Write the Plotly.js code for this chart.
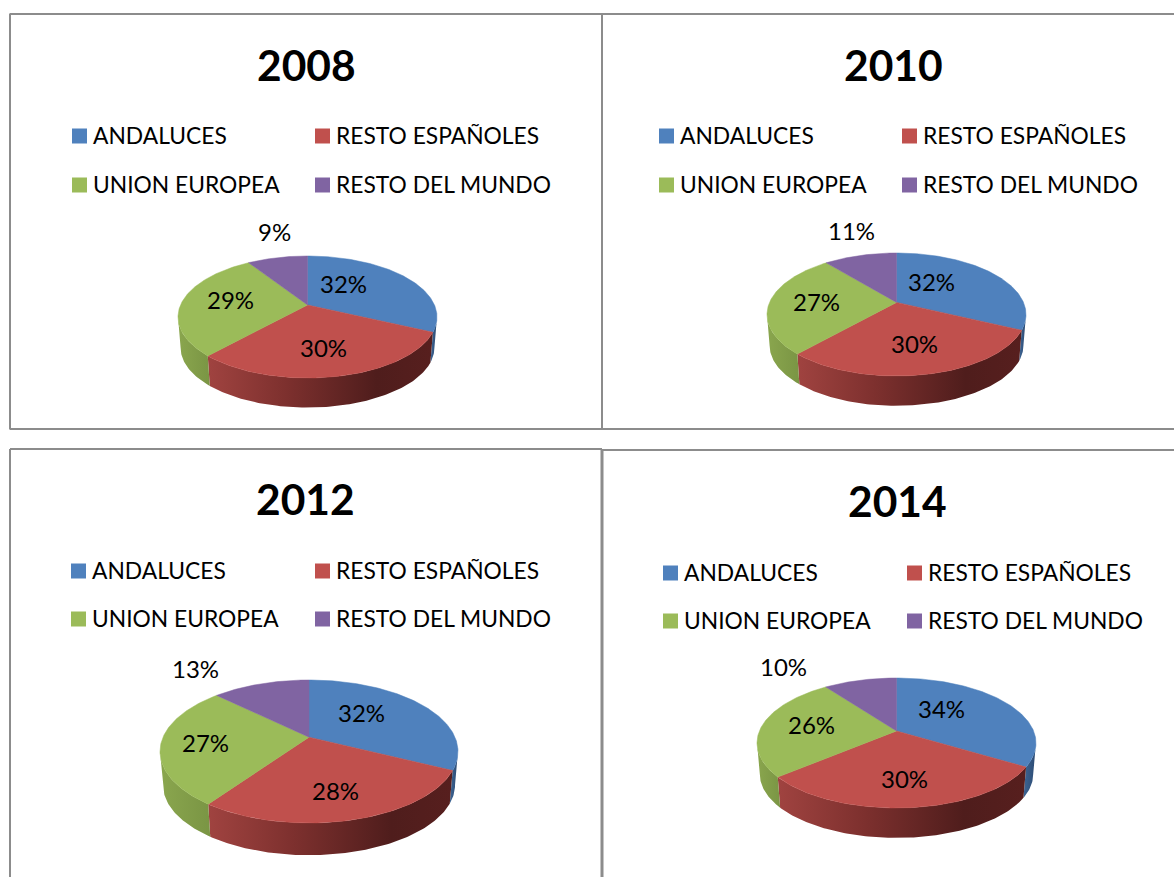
<!DOCTYPE html>
<html>
<head>
<meta charset="utf-8">
<script src="https://cdn.plot.ly/plotly-3.0.1.min.js"></script>
<style>html,body{margin:0;padding:0;background:#fff}#chart{width:1174px;height:877px}</style>
</head>
<body>
<div id="chart"></div>
<script>
// ---- data (shares; the labels show them rounded) ----
const categories = ['ANDALUCES', 'RESTO ESPAÑOLES', 'UNION EUROPEA', 'RESTO DEL MUNDO'];
const years = ['2008', '2010', '2012', '2014'];
const values2008 = [32, 29.7, 29.2, 9.1];
const values2010 = [32.1, 29.5, 27.4, 11];
const values2012 = [32.3, 27.5, 27.4, 12.8];
const values2014 = [33.7, 30.1, 26.1, 10.1];
const seriesByYear = [values2008, values2010, values2012, values2014];

// ---- styles and placement ----
const W = 1174, H = 877;
const FONT = 'Lato, Carlito, sans-serif';
const topColors = ['#4f81bd', '#c0504d', '#9bbb59', '#8064a2'];
const wallScales = [
  [[0, '#3d6594'], [1, '#2c4a72']],
  [[0, '#a04340'], [0.35, '#7d302e'], [0.75, '#4f1d1c'], [1, '#571f1e']],
  [[0, '#8aa64e'], [1, '#7a9544']],
  [[0, '#65507f'], [1, '#65507f']]
];
const panels = [
  {cx: 307.5, cy: 317,   rx: 129.5, ry: 61,   tilt: 0.197, depth: 0.504,
   title: [306, 64],  swatchX: [79.5, 322.5], rowY: [136, 185],
   labels: [[343, 283], [323, 347], [231, 299], [274, 231]]},
  {cx: 896.5, cy: 314.5, rx: 129.5, ry: 61.5, tilt: 0.197, depth: 0.504,
   title: [893, 64],  swatchX: [666.5, 909.5], rowY: [136, 185],
   labels: [[931, 281], [914, 343], [816, 301], [851, 230]]},
  {cx: 309,   cy: 751.5, rx: 149,   ry: 71.5, tilt: 0.2,   depth: 0.47,
   title: [305, 498], swatchX: [78.5, 322.5], rowY: [571, 619],
   labels: [[361, 712], [335, 790], [205, 742], [195, 668]]},
  {cx: 896.5, cy: 743,   rx: 139.5, ry: 65,   tilt: 0.185, depth: 0.48,
   title: [897, 501], swatchX: [670.5, 914.5], rowY: [573, 621],
   labels: [[941, 708], [904, 778], [811, 724], [783, 666]]}
];
const BOTTOM_SHRINK = 0.98;
const TEXT_GAP = 13.5, TEXT_DROP = 2;

// Perspective view of the pie disc: a point on the circle at clockwise angle
// theta lands on the ellipse with the pie's centre pushed towards the back.
function project(theta, tilt) {
  const x = Math.sin(theta), y = Math.cos(theta);
  const den = 1 + tilt * y;
  return [x * Math.sqrt(1 - tilt * tilt) / den, (y + tilt) / den];
}

const data = [], annotations = [];
const layout = {
  width: W, height: H, margin: {l: 0, r: 0, t: 0, b: 0}, showlegend: false,
  paper_bgcolor: '#ffffff', plot_bgcolor: 'rgba(0,0,0,0)', annotations: annotations,
  hovermode: false
};
const hidden = {visible: false, fixedrange: true, showgrid: false, zeroline: false};

panels.forEach((p, i) => {
  const n = i + 1, suf = n === 1 ? '' : String(n);
  const pad = 1.02, low = 1 + p.depth + 0.05;
  layout['xaxis' + suf] = Object.assign({}, hidden, {
    range: [-pad, pad], anchor: 'y' + suf,
    domain: [(p.cx - pad * p.rx) / W, (p.cx + pad * p.rx) / W]});
  layout['yaxis' + suf] = Object.assign({}, hidden, {
    range: [-low, pad], anchor: 'x' + suf,
    domain: [1 - (p.cy + low * p.ry) / H, 1 - (p.cy - pad * p.ry) / H]});

  const vals = seriesByYear[i];
  const total = vals.reduce((a, b) => a + b, 0);
  let acc = 0;
  const faces = [];
  vals.forEach((v, k) => {
    const a0 = acc / total * 2 * Math.PI; acc += v;
    const a1 = acc / total * 2 * Math.PI;
    const steps = Math.max(2, Math.ceil(v * 3.6));
    const rim = [];
    for (let s = 0; s <= steps; s++) rim.push(project(a0 + (a1 - a0) * s / steps, p.tilt));
    // top face
    faces.push({
      type: 'scatter', mode: 'lines', xaxis: 'x' + suf, yaxis: 'y' + suf,
      x: [0].concat(rim.map(q => q[0]), [0]),
      y: [p.tilt].concat(rim.map(q => q[1]), [p.tilt]),
      fill: 'toself', fillcolor: topColors[k],
      line: {color: topColors[k], width: 0.5}, name: categories[k] + ' ' + years[i], hoverinfo: 'skip'
    });
    // side wall: only the part of the rim that faces the viewer
    const front = rim.filter(q => q[1] <= 0.01);
    if (front.length > 1) {
      const bx = front.map(q => q[0] * BOTTOM_SHRINK).reverse();
      const by = front.map(q => q[1] * BOTTOM_SHRINK - p.depth).reverse();
      data.push({
        type: 'scatter', mode: 'lines', xaxis: 'x' + suf, yaxis: 'y' + suf,
        x: front.map(q => q[0]).concat(bx, [front[0][0]]),
        y: front.map(q => q[1]).concat(by, [front[0][1]]),
        fill: 'toself', line: {width: 0, color: 'rgba(0,0,0,0)'},
        fillgradient: {type: 'horizontal', colorscale: wallScales[k]},
        hoverinfo: 'skip', name: categories[k] + ' wall'
      });
    }
  });
  faces.forEach(f => data.push(f));
});

// overlay axes in page units for the text and legend
layout.xaxis5 = Object.assign({}, hidden, {range: [0, W], domain: [0, 1], anchor: 'y5'});
layout.yaxis5 = Object.assign({}, hidden, {range: [H, 0], domain: [0, 1], anchor: 'x5'});

panels.forEach((p, i) => {
  annotations.push({xref: 'paper', yref: 'paper', x: p.title[0] / W, y: 1 - p.title[1] / H,
    text: '<b>' + years[i] + '</b>', showarrow: false, xanchor: 'center', yanchor: 'middle',
    font: {family: FONT, size: 42.5, color: '#000'}});
  seriesByYear[i].forEach((v, k) => {
    annotations.push({xref: 'paper', yref: 'paper', x: p.labels[k][0] / W, y: 1 - p.labels[k][1] / H,
      text: Math.round(v) + '%', showarrow: false, xanchor: 'center', yanchor: 'middle',
      font: {family: FONT, size: 24, color: '#000'}});
  });
  const lx = [p.swatchX[0], p.swatchX[1], p.swatchX[0], p.swatchX[1]];
  const ly = [p.rowY[0], p.rowY[0], p.rowY[1], p.rowY[1]];
  data.push({
    type: 'scatter', mode: 'markers', xaxis: 'x5', yaxis: 'y5', cliponaxis: false,
    x: lx, y: ly,
    marker: {symbol: 'square', size: 15, color: topColors, line: {width: 0}},
    hoverinfo: 'skip', name: 'legend ' + years[i]
  });
  data.push({
    type: 'scatter', mode: 'text', xaxis: 'x5', yaxis: 'y5', cliponaxis: false,
    x: lx.map(v => v + TEXT_GAP), y: ly.map(v => v + TEXT_DROP),
    text: categories, textposition: 'middle right',
    textfont: {family: FONT, size: 22.8, color: '#000'},
    hoverinfo: 'skip', name: 'legend text ' + years[i]
  });
});

// panel frames
const frameColor = '#8c8c8c';
const seg = (x0, y0, x1, y1, w) => ({type: 'line', xref: 'paper', yref: 'paper',
  x0: x0 / W, x1: x1 / W, y0: 1 - y0 / H, y1: 1 - y1 / H, line: {color: frameColor, width: w || 2}});
layout.shapes = [
  seg(9.5, 14, W, 14), seg(10, 14, 10, 429), seg(9.5, 429, W, 429), seg(602, 14, 602, 429),
  seg(10, 449, 602, 449), seg(10, 449, 10, H), seg(602, 449, 602, H, 3), seg(602, 450, W, 450)
];

Plotly.newPlot('chart', data, layout, {displayModeBar: false, responsive: false});
</script>
</body>
</html>
